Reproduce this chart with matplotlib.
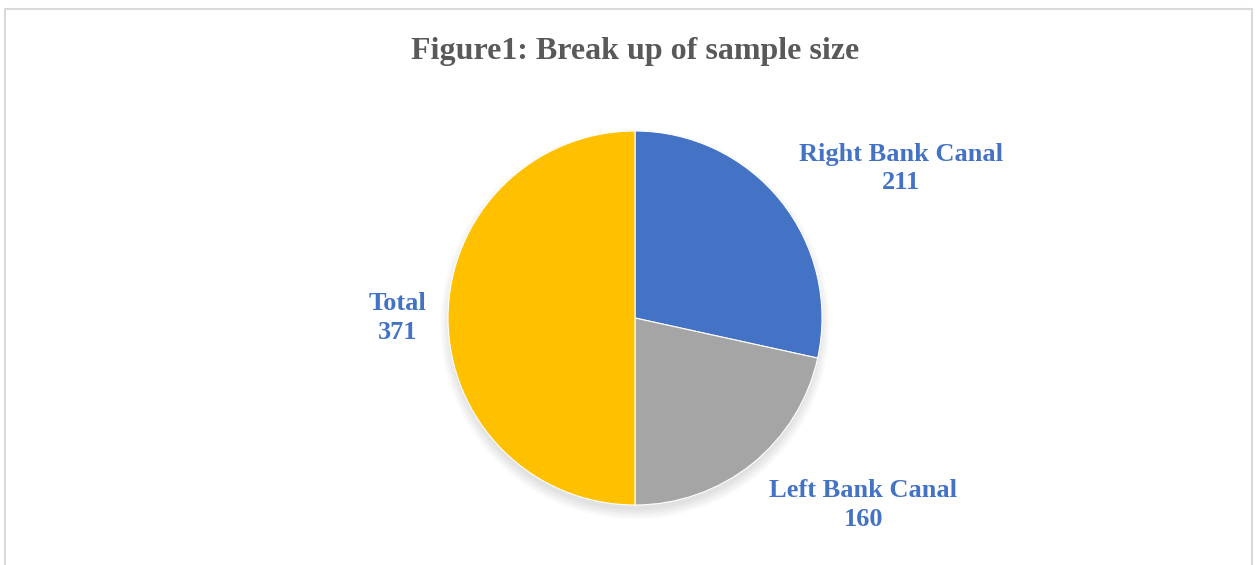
import numpy as np
import matplotlib.pyplot as plt
from matplotlib.patches import Rectangle, Circle

plt.rcParams['font.family'] = ['Liberation Serif', 'DejaVu Serif']

labels = ['Right Bank Canal', 'Left Bank Canal', 'Total']
values = [211, 160, 371]
colors = ['#4472C4', '#A5A5A5', '#FFC000']
title = 'Figure1: Break up of sample size'

# label anchor positions (pie radius units), as Excel placed them
label_pos = [(1.42, 0.80), (1.22, -1.00), (-1.27, 0.00)]

W, H = 1258, 565
fig = plt.figure(figsize=(W / 100, H / 100), dpi=100)

# chart frame
fig.patches.append(Rectangle((5 / W, -0.01), 1247 / W, 1 - 9 / H + 0.01,
                             transform=fig.transFigure, fill=False,
                             edgecolor='#D9D9D9', linewidth=1.5))

cx, cy, r = 635, 318, 187
ax = fig.add_axes([(cx - 1.3 * r) / W, (H - cy - 1.3 * r) / H, 2.6 * r / W, 2.6 * r / H])

# soft shadow under the pie
for k in range(6):
    ax.add_patch(Circle((0.0, -0.035), 0.99 + 0.01 * k, color='black',
                        alpha=0.02, linewidth=0, zorder=0))

ax.pie(values, colors=colors, startangle=90, counterclock=False, radius=1.0,
       wedgeprops=dict(edgecolor='white', linewidth=0.8), frame=True)
ax.set_xlim(-1.3, 1.3)
ax.set_ylim(-1.3, 1.3)
ax.axis('off')

for lab, val, (px, py) in zip(labels, values, label_pos):
    ax.text(px, py, f'{lab}\n{val}', ha='center', va='center', fontsize=19,
            fontweight='bold', color='#4472C4', linespacing=1.3, clip_on=False)

fig.text(cx / W, 1 - 52 / H, title, ha='center', va='center', fontsize=23,
         fontweight='bold', color='#595959')

fig.savefig('out.png', dpi=100)
